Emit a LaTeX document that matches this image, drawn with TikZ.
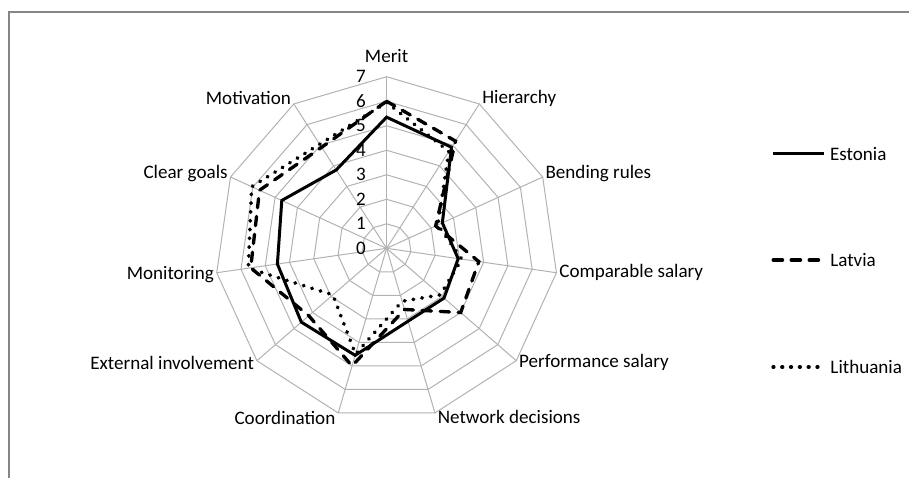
\documentclass[tikz,border=0pt]{standalone}
\usepackage{fontspec}
\setmainfont{Carlito}
\definecolor{gridgray}{RGB}{178,178,178}
\definecolor{framegray}{RGB}{134,134,134}
\tikzset{
  grid line/.style={gridgray,line width=0.75pt},
  estonia/.style={line width=2.25pt},
  latvia/.style={line width=2.5pt,line cap=round,dash pattern=on 7pt off 6.5pt},
  lithuania/.style={line width=2.8pt,line cap=round,dash pattern=on 0.4pt off 6.2pt},
  axis label/.style={inner sep=2pt},
}
\begin{document}
\begin{tikzpicture}[x=0.6461cm,y=0.6461cm,font=\fontsize{14.3}{17}\selectfont]
        \useasboundingbox (-15.77,-9.33) rectangle (21.31,10.13);
        \draw[framegray,line width=1.3pt] (-15.41,-9.4)--(-15.41,9.65)--(21.4,9.65);
        % spokes and rings
        \foreach \i in {0,...,10} {
            \coordinate (ax\i) at ({90-\i*360/11}:7);
            \draw[grid line] (0,0)--(ax\i);
        }
        \foreach \r in {1,...,7}
            \draw[grid line] (90:\r) \foreach \i in {1,...,10} {--({90-\i*360/11}:\r)} --cycle;
        \foreach \r in {0,...,7}
            \node[anchor=east,inner sep=2pt] (tick\r) at (-0.73,\r) {\r};
        % axis names
        \node[axis label,anchor=south,yshift=8.5pt] (merit) at (ax0) {Merit};
        \node[axis label,anchor=west,yshift=4.5pt] (hierarchy) at (ax1) {Hierarchy};
        \node[axis label,anchor=west,yshift=3pt] (bending) at (ax2) {Bending rules};
        \node[axis label,anchor=west,yshift=0.5pt] (comparable) at (ax3) {Comparable salary};
        \node[axis label,anchor=west,yshift=-1.5pt] (performance) at (ax4) {Performance salary};
        \node[axis label,anchor=west,yshift=-3pt] (network) at (ax5) {Network decisions};
        \node[axis label,anchor=east,yshift=-3.5pt] (coordination) at (ax6) {Coordination};
        \node[axis label,anchor=east,yshift=-1.5pt] (external) at (ax7) {External involvement};
        \node[axis label,anchor=east,yshift=-1pt] (monitoring) at (ax8) {Monitoring};
        \node[axis label,anchor=east,yshift=3pt] (cleargoals) at (ax9) {Clear goals};
        \node[axis label,anchor=east,yshift=4.5pt] (motivation) at (ax10) {Motivation};
        % data
        \foreach \v [count=\i from 0] in {5.35,4.9,2.5,2.95,3.1,3.1,4.55,4.6,4.5,4.7,3.8}
            \coordinate (est\i) at ({90-\i*360/11}:\v);
        \foreach \v [count=\i from 0] in {6.0,5.2,2.2,3.8,4.0,2.6,5.0,4.2,5.6,5.7,4.9}
            \coordinate (lat\i) at ({90-\i*360/11}:\v);
        \foreach \v [count=\i from 0] in {5.95,4.7,2.3,3.1,2.9,2.25,4.5,2.9,5.7,6.05,5.05}
            \coordinate (lit\i) at ({90-\i*360/11}:\v);
        \draw[estonia] (est0) \foreach \i in {1,...,10} {--(est\i)} --cycle;
        \draw[latvia] (lat0) \foreach \i in {1,...,10} {--(lat\i)} --cycle;
        \draw[lithuania] (lit0) \foreach \i in {1,...,10} {--(lit\i)} --cycle;
        % legend
        \coordinate (estleg) at (15.77,3.85);
        \coordinate (latleg) at (15.77,-0.48);
        \coordinate (litleg) at (15.77,-4.84);
        \draw[estonia] (estleg)--++(2.08,0) node[right] (estname) {Estonia};
        \draw[latvia] (latleg)--++(2.08,0) node[right] (latname) {Latvia};
        \draw[lithuania] (litleg)--++(2.08,0) node[right] (litname) {Lithuania};
\end{tikzpicture}
\end{document}
